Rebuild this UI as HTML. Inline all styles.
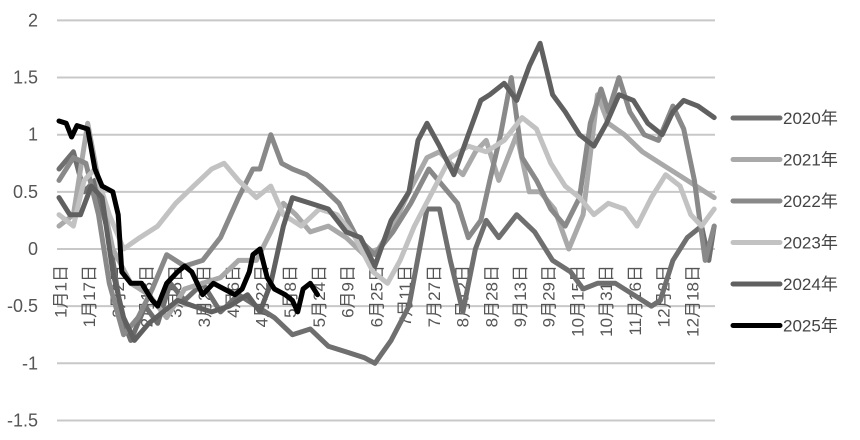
<!DOCTYPE html>
<html><head><meta charset="utf-8"><style>
body{margin:0;background:#fff}
svg{display:block;font-family:"Liberation Sans","Noto Sans CJK SC",sans-serif}
</style></head><body>
<svg id="chart" width="860" height="440" viewBox="0 0 860 440">
<g id="grid"></g>
<g id="yaxis"></g>
<g id="xaxis"></g>
<g id="series"></g>
<g id="legend"></g>
</svg>
<script>
const yTicks = [2, 1.5, 1, 0.5, 0, -0.5, -1, -1.5];
const yTickLabels = ["2", "1.5", "1", "0.5", "0", "-0.5", "-1", "-1.5"];
const xTickDays = [0,16,32,48,64,80,96,112,128,144,160,176,192,208,224,240,256,272,288,304,320,336,352];
const xTickLabels = ["1月1日","1月17日","2月2日","2月18日","3月5日","3月21日","4月6日","4月22日","5月8日","5月24日","6月9日","6月25日","7月11日","7月27日","8月12日","8月28日","9月13日","9月29日","10月15日","10月31日","11月16日","12月2日","12月18日"];
const seriesNames = ["2020年","2021年","2022年","2023年","2024年","2025年"];

const days2020 = [0,8,14,20,28,35,40,48,55,62,70,80,90,100,110,120,130,140,150,160,170,176,185,195,205,212,218,225,232,238,245,255,265,275,285,292,300,310,320,330,335,342,350,358,362,365];
const vals2020 = [0.7,0.85,0.5,0.6,0.1,-0.6,-0.8,-0.5,-0.65,-0.3,-0.45,-0.3,-0.55,-0.4,-0.5,-0.6,-0.75,-0.7,-0.85,-0.9,-0.95,-1.0,-0.8,-0.5,0.35,0.35,-0.1,-0.55,0.0,0.25,0.1,0.3,0.15,-0.1,-0.2,-0.35,-0.3,-0.3,-0.4,-0.5,-0.45,-0.1,0.1,0.2,-0.1,0.2];

const days2021 = [0,8,16,22,30,40,50,60,70,80,90,100,110,118,125,132,140,150,160,170,178,186,195,205,212,218,225,232,238,245,255,262,268,276,284,292,300,306,315,325,335,345,355,365];
const vals2021 = [0.2,0.3,1.1,0.6,0.0,-0.3,-0.4,-0.6,-0.35,-0.3,-0.25,-0.1,-0.1,0.15,0.4,0.3,0.15,0.2,0.1,-0.05,0.0,0.2,0.5,0.8,0.85,0.75,0.65,0.85,0.95,0.6,1.0,0.5,0.5,0.35,0.0,0.3,1.35,1.1,1.0,0.85,0.75,0.65,0.55,0.45];

const days2022 = [0,8,15,22,28,36,44,52,60,70,80,90,100,108,112,118,124,130,138,146,156,166,176,186,196,206,214,222,228,235,240,246,252,258,266,274,282,290,296,302,306,312,318,326,334,342,348,354,360,365];
const vals2022 = [0.6,0.8,0.75,0.3,-0.3,-0.75,-0.6,-0.35,-0.05,-0.15,-0.1,0.1,0.45,0.7,0.7,1.0,0.75,0.7,0.65,0.55,0.4,0.1,-0.05,0.15,0.4,0.7,0.55,0.4,0.1,0.25,0.6,1.0,1.5,0.8,0.6,0.35,0.2,0.45,1.1,1.4,1.2,1.5,1.2,1.0,0.95,1.25,1.05,0.6,-0.1,0.2];

const days2023 = [0,8,14,20,28,36,45,55,65,75,85,92,100,110,118,125,135,145,155,165,175,183,190,198,208,218,228,238,248,258,266,274,282,290,298,306,315,322,330,338,346,352,358,365];
const vals2023 = [0.3,0.2,0.6,0.7,0.3,0.0,0.1,0.2,0.4,0.55,0.7,0.75,0.6,0.45,0.55,0.3,0.2,0.35,0.3,0.1,-0.2,-0.3,-0.1,0.2,0.5,0.8,0.9,0.85,0.95,1.15,1.05,0.75,0.55,0.45,0.3,0.4,0.35,0.2,0.45,0.65,0.55,0.3,0.2,0.35];

const days2024 = [0,6,12,18,24,30,36,42,50,58,66,75,85,95,105,112,118,125,130,140,150,160,168,176,185,195,200,205,212,220,228,235,240,248,255,262,268,275,282,290,298,305,312,320,328,336,342,348,356,365];
const vals2024 = [0.45,0.3,0.3,0.55,0.45,-0.2,-0.6,-0.8,-0.65,-0.55,-0.45,-0.5,-0.55,-0.5,-0.4,-0.55,-0.3,0.2,0.45,0.4,0.35,0.15,0.1,-0.15,0.25,0.5,0.95,1.1,0.9,0.65,1.0,1.3,1.35,1.45,1.3,1.6,1.8,1.35,1.2,1.0,0.9,1.1,1.35,1.3,1.1,1.0,1.2,1.3,1.25,1.15];

const days2025 = [0,4,7,10,16,20,24,30,33,35,40,46,52,55,60,66,70,74,80,86,92,98,102,106,108,112,116,120,126,130,133,136,140,144];
const vals2025 = [1.12,1.1,0.98,1.08,1.05,0.7,0.55,0.5,0.3,-0.2,-0.3,-0.3,-0.45,-0.5,-0.3,-0.2,-0.15,-0.2,-0.4,-0.3,-0.35,-0.4,-0.35,-0.2,-0.05,0.0,-0.25,-0.35,-0.4,-0.45,-0.55,-0.35,-0.3,-0.4];

const seriesDays = [days2020,days2021,days2022,days2023,days2024,days2025];
const seriesVals = [vals2020,vals2021,vals2022,vals2023,vals2024,vals2025];
const colors = ["#6f6f6f","#a9a9a9","#898989","#c2c2c2","#606060","#000000"];

const NS = "http://www.w3.org/2000/svg";
const xScale = d => 59 + d * 1.795;
const yScale = v => 249 - v * 114.3;
function mk(tag, attrs, parent) {
  const e = document.createElementNS(NS, tag);
  for (const k in attrs) e.setAttribute(k, attrs[k]);
  parent.appendChild(e);
  return e;
}
const grid = document.getElementById('grid');
const yaxis = document.getElementById('yaxis');
yTicks.forEach((v, i) => {
  const ln = mk('line', {x1:57, x2:715, y1:yScale(v), y2:yScale(v), stroke:'#c8c8c8', 'stroke-width':2}, grid);
  
  
  const t = mk('text', {x:38, y:yScale(v)+6, 'text-anchor':'end', 'font-size':18, fill:'#555'}, yaxis);
  t.textContent = yTickLabels[i];
  
  
});
const xaxis = document.getElementById('xaxis');
xTickDays.forEach((d, i) => {
  const x = xScale(d) + 3;
  const t = mk('text', {x:0, y:0, 'text-anchor':'end', 'dominant-baseline':'middle', 'font-size':17, fill:'#555', transform:`translate(${x},265) rotate(-90)`}, xaxis);
  t.textContent = xTickLabels[i];
  
  
});
const sg = document.getElementById('series');
seriesVals.forEach((vals, s) => {
  const pts = vals.map((v, i) => xScale(seriesDays[s][i]).toFixed(1) + ',' + yScale(v).toFixed(1)).join(' ');
  const pl = mk('polyline', {points:pts, fill:'none', stroke:colors[s], 'stroke-width':5, 'stroke-linejoin':'round', 'stroke-linecap':'round'}, sg);
  
  
});
const lg = document.getElementById('legend');
seriesNames.forEach((n, s) => {
  const y = 118 + s * 41.5;
  const g = mk('g', {}, lg);
  
  
  mk('line', {x1:733, x2:780, y1:y, y2:y, stroke:colors[s], 'stroke-width':5, 'stroke-linecap':'round'}, g);
  const t = mk('text', {x:783, y:y+6, 'font-size':17, fill:'#444'}, g);
  t.textContent = n;
});
</script>
</body></html>
